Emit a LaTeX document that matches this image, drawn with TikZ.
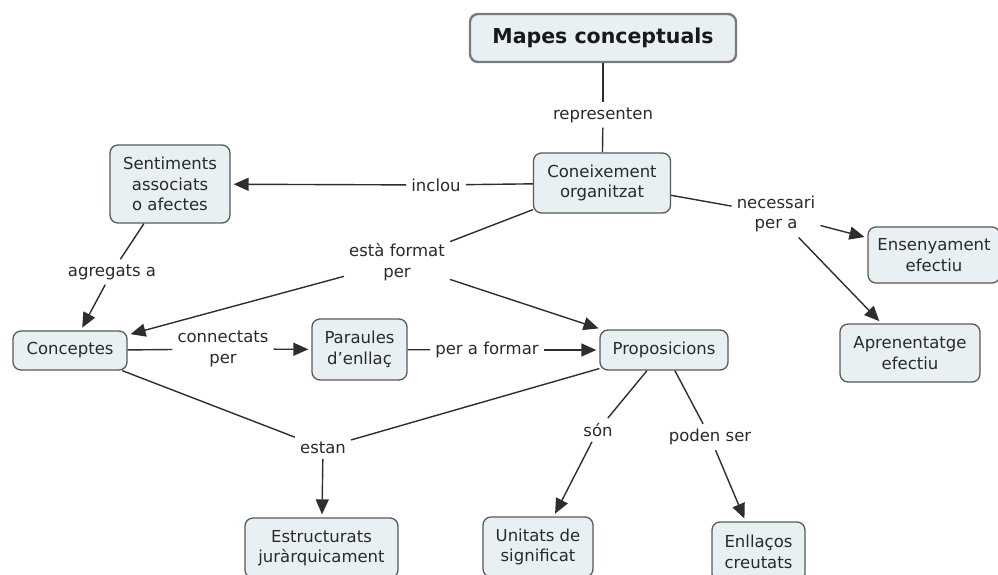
\documentclass[tikz,border=0pt]{standalone}
\usepackage{fontspec}
\setmainfont{DejaVu Sans}
\usetikzlibrary{arrows.meta}
\definecolor{boxfill}{HTML}{E8F0F4}
\definecolor{boxline}{HTML}{5A5A5A}
\definecolor{txt}{HTML}{2A2A2A}
\definecolor{edge}{HTML}{2E2E2E}
\begin{document}
\begin{tikzpicture}[x=1pt,y=-1pt,
  concept/.style={draw=boxline, line width=1.3pt, fill=boxfill, rounded corners=8pt,
    align=center, text=txt, font=\fontsize{16.5}{20.5}\selectfont, inner sep=0pt},
  link/.style={align=center, text=txt, font=\fontsize{16.5}{20.5}\selectfont, inner sep=5pt},
  conn/.style={draw=edge, line width=1.4pt},
  arr/.style={conn, shorten >=3pt, -{Triangle[length=15pt,width=13pt]}}]
\clip (0,0) rectangle (998,574);
\fill[white] (0,0) rectangle (998,574);
% concepts
\node[concept, line width=2.4pt, draw=boxline!80, minimum width=266pt, minimum height=48pt,
  font=\fontsize{20.5}{24}\bfseries\selectfont, text=black!90] (title) at (603,38) {Mapes conceptuals};
\node[concept, minimum width=137pt, minimum height=60pt] (kno) at (602,183) {Coneixement\\organitzat};
\node[concept, minimum width=120pt, minimum height=78pt] (sent) at (170,184) {Sentiments\\associats\\o afectes};
\node[concept, minimum width=114pt, minimum height=39pt] (conc) at (70,350.5) {Conceptes};
\node[concept, minimum width=95pt, minimum height=61pt] (par) at (359.5,349.5) {Paraules\\d'enllaç};
\node[concept, minimum width=128pt, minimum height=40pt] (prop) at (664,350) {Proposicions};
\node[concept, minimum width=132pt, minimum height=56pt] (ens) at (934,255) {Ensenyament\\efectiu};
\node[concept, minimum width=140pt, minimum height=58pt] (apr) at (910,353) {Aprenentatge\\efectiu};
\node[concept, minimum width=153pt, minimum height=60pt] (est) at (321.5,548) {Estructurats\\juràrquicament};
\node[concept, minimum width=110pt, minimum height=60pt] (uni) at (538,547) {Unitats de\\significat};
\node[concept, minimum width=93pt, minimum height=60pt] (enl) at (758.5,552) {Enllaços\\creutats};
% linking phrases
\node[link] (repr) at (603,115) {representen};
\node[link] (inclou) at (436,185) {inclou};
\node[link] (agreg) at (112,272) {agregats a};
\node[link] (format) at (397,262) {està format\\per};
\node[link] (connect) at (223,349) {connectats\\per};
\node[link] (perform) at (487,350) {per a formar};
\node[link] (necess) at (776,214) {necessari\\per a};
\node[link] (estan) at (323,448) {estan};
\node[link] (son) at (598,430) {són};
\node[link] (poden) at (710,437) {poden ser};
% connectors
\draw[conn] (title) -- (repr);
\draw[conn] (repr) -- (kno);
\draw[conn] (kno) -- (inclou);
\draw[arr] (inclou) -- (sent);
\draw[conn] (sent) -- (agreg);
\draw[arr] (agreg) -- (conc);
\draw[conn] (kno) -- (format);
\draw[arr] (format) -- (conc);
\draw[arr] (format) -- (prop);
\draw[conn] (conc) -- (connect);
\draw[arr] (connect) -- (par);
\draw[conn] (par) -- (perform);
\draw[arr] (perform) -- (prop);
\draw[conn] (conc) -- (estan);
\draw[conn] (prop) -- (estan);
\draw[arr] (estan) -- (est);
\draw[conn] (prop) -- (son);
\draw[arr] (son) -- (uni);
\draw[conn] (prop) -- (poden);
\draw[arr] (poden) -- (enl);
\draw[conn] (kno) -- (necess);
\draw[arr] (necess) -- (ens);
\draw[arr] (necess) -- (apr);
\end{tikzpicture}
\end{document}
